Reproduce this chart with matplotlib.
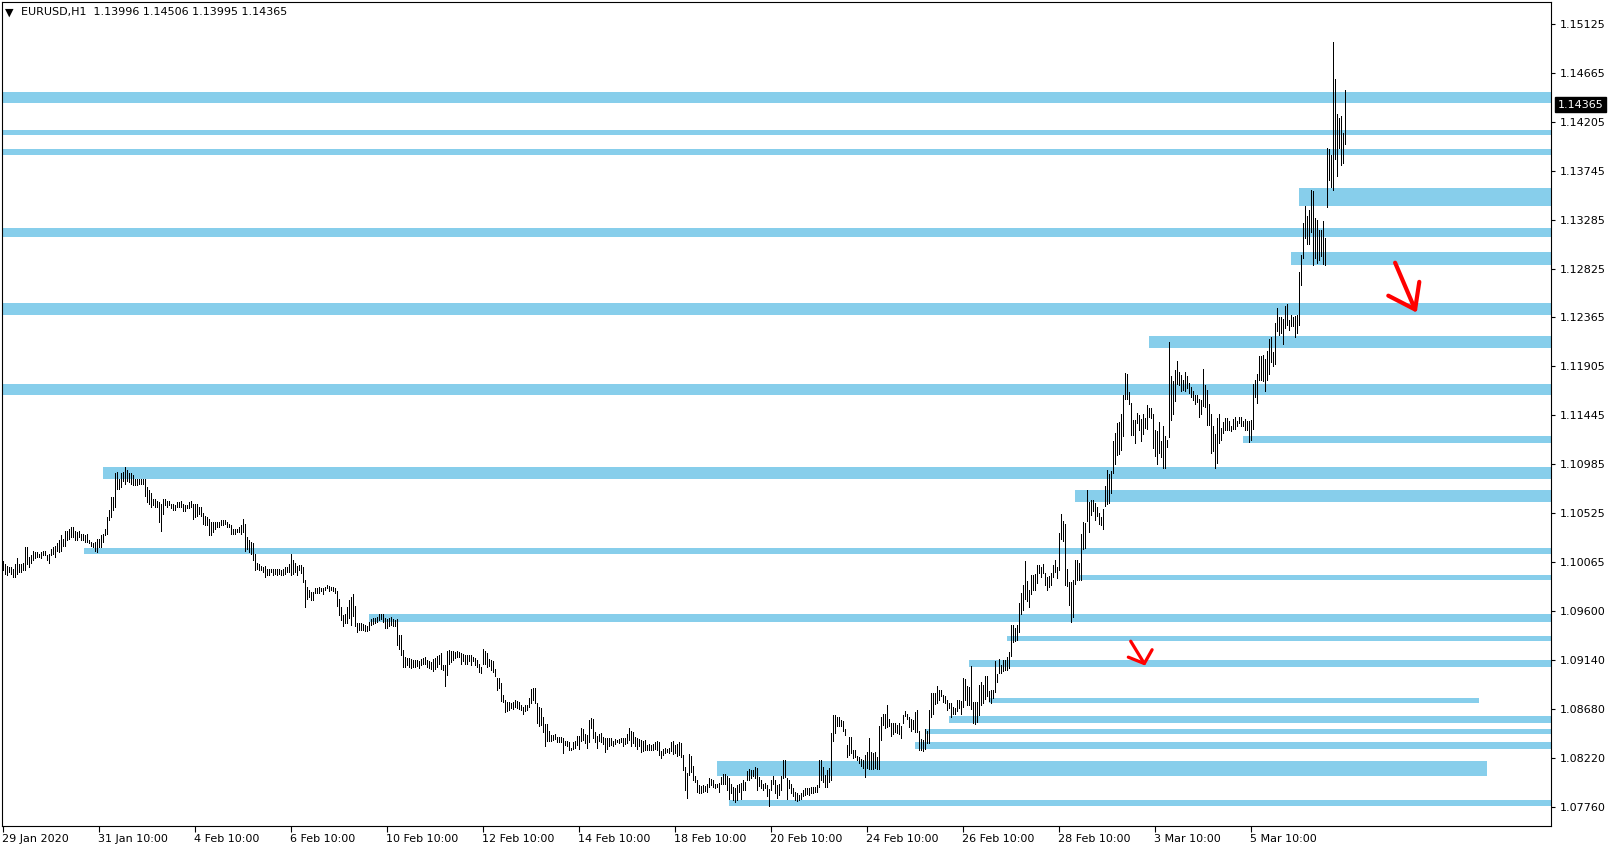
import matplotlib
matplotlib.use("Agg")
import matplotlib.pyplot as plt
from matplotlib.patches import Rectangle
import matplotlib.transforms as mtransforms
import numpy as np

# ---------------- data ----------------
symbol_title = "EURUSD,H1"
last_ohlc = [1.13996, 1.14506, 1.13995, 1.14365]

# hourly (high, low) pairs, in time order
hl_jan29_feb06 = [
    (1.1007,1.0999),(1.1005,1.0995),(1.1003,1.0994),(1.1002,1.0997),(1.1002,1.0995),(1.1000,1.0992),(1.1005,1.0992),(1.1010,1.0995),(1.1005,1.0997),(1.1005,1.0997),
    (1.1006,1.0999),(1.1021,1.0999),(1.1021,1.1005),(1.1011,1.1002),(1.1013,1.1006),(1.1017,1.1008),(1.1016,1.1010),(1.1016,1.1011),(1.1014,1.1011),(1.1016,1.1010),
    (1.1017,1.1013),(1.1017,1.1013),(1.1013,1.1008),(1.1014,1.1006),(1.1019,1.1013),(1.1021,1.1014),(1.1022,1.1011),(1.1024,1.1017),(1.1027,1.1016),(1.1032,1.1017),
    (1.1028,1.1022),(1.1036,1.1022),(1.1036,1.1027),(1.1038,1.1028),(1.1039,1.1030),(1.1039,1.1030),(1.1036,1.1027),(1.1035,1.1027),(1.1036,1.1030),(1.1033,1.1027),
    (1.1033,1.1027),(1.1032,1.1025),(1.1033,1.1025),(1.1027,1.1024),(1.1025,1.1022),(1.1024,1.1021),(1.1025,1.1017),(1.1028,1.1016),(1.1028,1.1021),(1.1032,1.1021),
    (1.1033,1.1025),(1.1038,1.1032),(1.1049,1.1033),(1.1055,1.1046),(1.1068,1.1049),(1.1068,1.1055),(1.1090,1.1058),(1.1091,1.1075),(1.1085,1.1075),(1.1090,1.1077),
    (1.1091,1.1083),(1.1096,1.1080),(1.1093,1.1083),(1.1090,1.1082),(1.1090,1.1080),(1.1088,1.1079),(1.1085,1.1079),(1.1085,1.1079),(1.1085,1.1080),(1.1085,1.1080),
    (1.1085,1.1080),(1.1085,1.1069),(1.1077,1.1063),(1.1074,1.1061),(1.1071,1.1058),(1.1066,1.1060),(1.1066,1.1058),(1.1064,1.1058),(1.1063,1.1044),(1.1061,1.1036),
    (1.1066,1.1052),(1.1066,1.1060),(1.1064,1.1058),(1.1064,1.1060),(1.1061,1.1057),(1.1061,1.1055),(1.1060,1.1055),(1.1063,1.1058),(1.1063,1.1058),(1.1064,1.1058),
    (1.1061,1.1054),(1.1060,1.1054),(1.1060,1.1057),(1.1063,1.1057),(1.1064,1.1058),(1.1061,1.1047),(1.1061,1.1049),(1.1061,1.1050),(1.1058,1.1052),(1.1058,1.1050),
    (1.1053,1.1042),(1.1050,1.1041),(1.1049,1.1041),(1.1047,1.1032),(1.1044,1.1032),(1.1044,1.1035),(1.1044,1.1038),(1.1044,1.1039),(1.1044,1.1039),(1.1046,1.1041),
    (1.1046,1.1041),(1.1046,1.1042),(1.1044,1.1039),(1.1042,1.1039),(1.1041,1.1033),(1.1038,1.1033),(1.1038,1.1033),(1.1038,1.1035),(1.1039,1.1035),(1.1041,1.1033),
    (1.1047,1.1035),(1.1042,1.1017),(1.1030,1.1019),(1.1027,1.1016),(1.1025,1.1014),(1.1024,1.1008),(1.1014,1.0999),(1.1006,1.1000),(1.1005,1.0999),(1.1003,1.0999),
    (1.1002,1.0997),(1.1003,1.0992),(1.1000,1.0994),(1.1000,1.0994),(1.1000,1.0997),(1.1000,1.0994),(1.1000,1.0995),(1.1000,1.0994),(1.1000,1.0995),(1.0999,1.0994),
    (1.1000,1.0994),(1.1002,1.0995),(1.1002,1.0997),(1.1005,1.0997),(1.1014,1.0994),(1.1008,1.0995),(1.1006,1.0997),(1.1003,1.0994),
]

hl_feb06_feb18 = [
    (1.1004,1.0999),(1.1004,1.0996),(1.1002,1.0988),(1.0990,1.0964),(1.0983,1.0972),(1.0980,1.0974),(1.0978,1.0971),(1.0978,1.0971),(1.0982,1.0977),(1.0982,1.0977),
    (1.0983,1.0977),(1.0982,1.0979),(1.0982,1.0976),(1.0983,1.0980),(1.0985,1.0982),(1.0984,1.0979),(1.0983,1.0980),(1.0983,1.0979),(1.0982,1.0977),(1.0979,1.0965),
    (1.0972,1.0957),(1.0964,1.0952),(1.0957,1.0946),(1.0958,1.0949),(1.0964,1.0949),(1.0971,1.0954),(1.0974,1.0947),(1.0976,1.0956),(1.0965,1.0946),(1.0949,1.0941),
    (1.0949,1.0943),(1.0949,1.0943),(1.0948,1.0943),(1.0947,1.0942),(1.0946,1.0942),(1.0950,1.0943),(1.0953,1.0947),(1.0954,1.0948),(1.0954,1.0949),(1.0955,1.0950),
    (1.0958,1.0952),(1.0958,1.0953),(1.0958,1.0950),(1.0954,1.0944),(1.0953,1.0944),(1.0954,1.0946),(1.0955,1.0947),(1.0953,1.0946),(1.0952,1.0946),(1.0953,1.0928),
    (1.0938,1.0925),(1.0938,1.0919),(1.0924,1.0908),(1.0917,1.0908),(1.0916,1.0910),(1.0916,1.0908),(1.0915,1.0907),(1.0914,1.0908),(1.0914,1.0908),(1.0914,1.0909),
    (1.0913,1.0907),(1.0915,1.0910),(1.0916,1.0911),(1.0917,1.0911),(1.0914,1.0908),(1.0913,1.0907),(1.0912,1.0906),(1.0915,1.0904),(1.0916,1.0906),(1.0918,1.0908),
    (1.0919,1.0911),(1.0921,1.0906),(1.0910,1.0905),(1.0910,1.0890),(1.0923,1.0900),(1.0924,1.0911),(1.0923,1.0912),(1.0923,1.0914),(1.0922,1.0916),(1.0923,1.0917),
    (1.0922,1.0917),(1.0921,1.0911),(1.0920,1.0913),(1.0919,1.0911),(1.0919,1.0911),(1.0919,1.0913),(1.0919,1.0910),(1.0917,1.0913),(1.0916,1.0910),(1.0914,1.0908),
    (1.0911,1.0903),(1.0908,1.0902),(1.0925,1.0911),(1.0923,1.0911),(1.0921,1.0908),(1.0915,1.0909),(1.0914,1.0905),(1.0913,1.0903),(1.0906,1.0899),(1.0897,1.0886),
    (1.0897,1.0888),(1.0893,1.0876),(1.0881,1.0875),(1.0877,1.0865),(1.0875,1.0866),(1.0875,1.0867),(1.0874,1.0869),(1.0875,1.0868),(1.0877,1.0870),(1.0876,1.0869),
    (1.0875,1.0868),(1.0872,1.0867),(1.0870,1.0864),(1.0872,1.0866),(1.0872,1.0867),(1.0879,1.0870),(1.0887,1.0874),(1.0888,1.0877),(1.0888,1.0874),(1.0874,1.0855),
    (1.0870,1.0852),(1.0869,1.0853),(1.0861,1.0847),(1.0854,1.0833),(1.0854,1.0838),(1.0848,1.0838),(1.0844,1.0838),(1.0844,1.0839),(1.0845,1.0840),(1.0842,1.0837),
    (1.0842,1.0837),(1.0842,1.0837),(1.0841,1.0827),(1.0838,1.0834),(1.0838,1.0833),(1.0837,1.0830),(1.0832,1.0830),(1.0837,1.0831),(1.0838,1.0832),(1.0843,1.0834),
    (1.0843,1.0831),(1.0850,1.0838),(1.0849,1.0839),(1.0845,1.0836),(1.0844,1.0832),(1.0858,1.0837),(1.0860,1.0850),(1.0859,1.0841),(1.0847,1.0837),(1.0843,1.0832),
    (1.0845,1.0838),(1.0846,1.0837),(1.0842,1.0835),(1.0841,1.0828),(1.0841,1.0831),(1.0841,1.0833),(1.0841,1.0834),(1.0838,1.0833),(1.0840,1.0835),(1.0839,1.0837),
    (1.0840,1.0836),(1.0841,1.0837),(1.0841,1.0833),(1.0841,1.0835),(1.0845,1.0836),(1.0850,1.0839),(1.0848,1.0833),(1.0847,1.0836),(1.0842,1.0833),(1.0841,1.0831),
    (1.0840,1.0833),(1.0839,1.0828),(1.0838,1.0829),(1.0839,1.0830),(1.0834,1.0830),(1.0835,1.0830),(1.0834,1.0830),(1.0835,1.0830),(1.0837,1.0831),(1.0838,1.0830),
    (1.0837,1.0825),
]

hl_feb18_feb26 = [
    (1.0829,1.0822),(1.0831,1.0825),(1.0832,1.0827),(1.0831,1.0828),(1.0832,1.0827),(1.0837,1.0829),(1.0838,1.0826),(1.0834,1.0827),(1.0835,1.0824),(1.0837,1.0825),
    (1.0836,1.0823),(1.0825,1.0811),(1.0814,1.0792),(1.0808,1.0785),(1.0826,1.0806),(1.0824,1.0809),(1.0815,1.0801),(1.0805,1.0800),(1.0801,1.0790),(1.0797,1.0789),
    (1.0796,1.0789),(1.0797,1.0790),(1.0796,1.0791),(1.0798,1.0790),(1.0803,1.0795),(1.0802,1.0797),(1.0801,1.0795),(1.0798,1.0794),(1.0798,1.0795),(1.0799,1.0790),
    (1.0804,1.0798),(1.0807,1.0798),(1.0807,1.0798),(1.0805,1.0792),(1.0803,1.0784),(1.0798,1.0789),(1.0795,1.0783),(1.0794,1.0781),(1.0797,1.0783),(1.0798,1.0790),
    (1.0799,1.0784),(1.0801,1.0792),(1.0800,1.0792),(1.0810,1.0801),(1.0812,1.0801),(1.0811,1.0803),(1.0811,1.0805),(1.0814,1.0803),(1.0813,1.0792),(1.0804,1.0796),
    (1.0801,1.0794),(1.0798,1.0792),(1.0799,1.0794),(1.0797,1.0786),(1.0793,1.0777),(1.0801,1.0792),(1.0805,1.0798),(1.0801,1.0789),(1.0797,1.0785),(1.0798,1.0787),
    (1.0805,1.0792),(1.0820,1.0803),(1.0820,1.0804),(1.0803,1.0784),(1.0801,1.0794),(1.0798,1.0789),(1.0794,1.0786),(1.0790,1.0783),(1.0789,1.0782),(1.0787,1.0783),
    (1.0789,1.0784),(1.0792,1.0786),(1.0794,1.0787),(1.0794,1.0788),(1.0794,1.0787),(1.0795,1.0789),(1.0795,1.0789),(1.0795,1.0790),(1.0797,1.0790),(1.0820,1.0795),
    (1.0820,1.0801),(1.0814,1.0800),(1.0806,1.0795),(1.0811,1.0795),(1.0813,1.0800),(1.0846,1.0801),(1.0863,1.0838),(1.0863,1.0846),(1.0861,1.0852),(1.0861,1.0852),
    (1.0858,1.0852),(1.0857,1.0848),(1.0849,1.0844),(1.0834,1.0823),(1.0842,1.0825),(1.0842,1.0827),(1.0830,1.0822),(1.0830,1.0823),(1.0824,1.0820),(1.0823,1.0817),
    (1.0821,1.0815),(1.0820,1.0813),(1.0825,1.0804),(1.0828,1.0813),(1.0841,1.0812),(1.0828,1.0812),(1.0827,1.0812),(1.0828,1.0813),(1.0823,1.0812),(1.0852,1.0812),
    (1.0861,1.0839),(1.0864,1.0853),(1.0864,1.0850),(1.0872,1.0851),(1.0859,1.0852),(1.0855,1.0843),(1.0855,1.0845),(1.0855,1.0847),(1.0853,1.0846),(1.0855,1.0845),
    (1.0852,1.0841),(1.0863,1.0855),(1.0866,1.0862),(1.0864,1.0859),(1.0861,1.0851),(1.0859,1.0848),(1.0858,1.0849),(1.0865,1.0847),(1.0867,1.0847),(1.0848,1.0830),
    (1.0840,1.0830),(1.0839,1.0829),(1.0849,1.0831),(1.0848,1.0836),(1.0867,1.0836),(1.0883,1.0861),(1.0883,1.0864),(1.0883,1.0873),(1.0890,1.0874),(1.0886,1.0877),
    (1.0886,1.0880),(1.0881,1.0875),(1.0880,1.0874),(1.0877,1.0867),(1.0874,1.0869),
]

hl_feb26_mar03 = [
    (1.0874,1.0861),(1.0870,1.0864),(1.0869,1.0864),(1.0877,1.0866),(1.0877,1.0869),(1.0876,1.0864),(1.0897,1.0870),(1.0896,1.0877),(1.0890,1.0872),(1.0889,1.0872),
    (1.0909,1.0868),(1.0875,1.0855),(1.0875,1.0854),(1.0875,1.0856),(1.0891,1.0863),(1.0894,1.0872),(1.0891,1.0874),(1.0899,1.0878),(1.0899,1.0880),(1.0885,1.0876),
    (1.0886,1.0874),(1.0886,1.0879),(1.0913,1.0884),(1.0901,1.0894),(1.0915,1.0902),(1.0910,1.0902),(1.0914,1.0904),(1.0914,1.0905),(1.0917,1.0905),(1.0922,1.0907),
    (1.0947,1.0918),(1.0947,1.0931),(1.0944,1.0932),(1.0947,1.0933),(1.0968,1.0941),(1.0977,1.0958),(1.0985,1.0961),(1.1007,1.0972),(1.0989,1.0970),(1.0980,1.0964),
    (1.0994,1.0976),(1.0994,1.0980),(1.0995,1.0980),(1.1004,1.0987),(1.1004,1.0996),(1.1002,1.0992),(1.1005,1.0996),(1.0996,1.0985),(1.0992,1.0980),(1.0993,1.0983),
    (1.0996,1.0985),(1.1004,1.0992),(1.1008,1.0997),(1.1002,1.0991),(1.1034,1.0999),(1.1052,1.1028),(1.1045,1.1026),(1.1042,1.0985),(1.1000,1.0984),(1.0988,1.0966),
    (1.0988,1.0950),(1.0990,1.0955),(1.1008,1.0986),(1.1008,1.0990),(1.1006,1.0990),(1.1033,1.0990),(1.1044,1.1019),(1.1043,1.1020),(1.1074,1.1045),(1.1063,1.1035),
    (1.1065,1.1051),(1.1065,1.1054),(1.1062,1.1046),(1.1058,1.1050),(1.1053,1.1042),(1.1049,1.1041),(1.1056,1.1038),(1.1078,1.1059),(1.1093,1.1061),(1.1089,1.1062),
    (1.1092,1.1071),(1.1120,1.1090),(1.1128,1.1099),(1.1137,1.1107),(1.1138,1.1108),(1.1146,1.1112),(1.1164,1.1125),(1.1184,1.1160),(1.1183,1.1160),(1.1166,1.1155),
    (1.1156,1.1126),(1.1140,1.1126),(1.1140,1.1118),(1.1147,1.1137),(1.1145,1.1131),(1.1141,1.1120),(1.1146,1.1127),(1.1142,1.1133),(1.1154,1.1132),(1.1151,1.1143),
    (1.1151,1.1142),(1.1146,1.1114),(1.1131,1.1106),(1.1130,1.1099),(1.1138,1.1109),
]

hl_mar03_mar06 = [
    (1.1120,1.1105),(1.1134,1.1095),(1.1125,1.1095),(1.1121,1.1115),(1.1213,1.1124),(1.1181,1.1140),(1.1177,1.1146),(1.1187,1.1158),(1.1196,1.1174),(1.1185,1.1173),
    (1.1182,1.1167),(1.1178,1.1168),(1.1185,1.1167),(1.1181,1.1170),(1.1175,1.1165),(1.1171,1.1162),(1.1167,1.1159),(1.1164,1.1155),(1.1164,1.1157),(1.1160,1.1143),
    (1.1159,1.1146),(1.1188,1.1153),(1.1173,1.1152),(1.1168,1.1135),(1.1155,1.1135),(1.1146,1.1109),(1.1134,1.1111),(1.1127,1.1095),(1.1142,1.1100),(1.1146,1.1118),
    (1.1133,1.1121),(1.1138,1.1128),(1.1142,1.1131),(1.1142,1.1131),(1.1139,1.1131),(1.1134,1.1130),(1.1141,1.1132),(1.1143,1.1132),(1.1139,1.1134),(1.1143,1.1137),
    (1.1143,1.1134),(1.1139,1.1134),(1.1141,1.1131),(1.1139,1.1131),(1.1139,1.1119),(1.1140,1.1121),(1.1174,1.1132),(1.1178,1.1162),(1.1183,1.1156),(1.1200,1.1178),
    (1.1200,1.1178),(1.1201,1.1177),(1.1197,1.1167),(1.1205,1.1178),(1.1216,1.1183),(1.1218,1.1195),(1.1204,1.1191),(1.1231,1.1193),(1.1245,1.1224),(1.1237,1.1220),
    (1.1237,1.1222),(1.1235,1.1212),(1.1247,1.1227),(1.1249,1.1229),(1.1234,1.1225),(1.1239,1.1228),(1.1237,1.1228),(1.1238,1.1218),(1.1239,1.1222),
]

hl_mar06_mar09 = [
    (1.1279,1.1229),(1.1295,1.1267),(1.1325,1.1292),(1.1341,1.1311),(1.1332,1.1306),(1.1338,1.1306),(1.1356,1.1317),(1.1355,1.1286),(1.1330,1.1292),(1.1328,1.1288),
    (1.1319,1.1291),(1.1319,1.1294),(1.1327,1.1287),(1.1311,1.1286),(1.1396,1.1340),(1.1395,1.1366),(1.1389,1.1359),(1.1496,1.1356),(1.1461,1.1386),(1.1428,1.1370),
    (1.1424,1.1396),(1.1426,1.1380),(1.1410,1.1382),(1.14506,1.13995),
]

date_labels = ["29 Jan 2020", "31 Jan 10:00", "4 Feb 10:00", "6 Feb 10:00", "10 Feb 10:00",
               "12 Feb 10:00", "14 Feb 10:00", "18 Feb 10:00", "20 Feb 10:00", "24 Feb 10:00",
               "26 Feb 10:00", "28 Feb 10:00", "3 Mar 10:00", "5 Mar 10:00"]
bars_per_label = 48

price_ticks = [1.15125, 1.14665, 1.14205, 1.13745, 1.13285, 1.12825, 1.12365, 1.11905,
               1.11445, 1.10985, 1.10525, 1.10065, 1.09600, 1.09140, 1.08680, 1.08220, 1.07760]

# supply/demand zones: (start bar or None = chart start, end bar or None = open, top, bottom)
zones = [
    (None, None, 1.1449, 1.1438),
    (None, None, 1.1413, 1.1408),
    (None, None, 1.1395, 1.1389),
    (648, None, 1.1358, 1.1341),
    (None, None, 1.1321, 1.1312),
    (644, None, 1.1298, 1.1286),
    (None, None, 1.1250, 1.1239),
    (573, None, 1.1219, 1.1208),
    (None, None, 1.1174, 1.1164),
    (620, None, 1.1125, 1.1118),
    (50, None, 1.1096, 1.1085),
    (536, None, 1.1074, 1.1063),
    (40.5, None, 1.1020, 1.1014),
    (538, None, 1.0994, 1.0990),
    (183, None, 1.0958, 1.0950),
    (502, None, 1.0937, 1.0932),
    (483, None, 1.0914, 1.0908),
    (493, 738, 1.0879, 1.0874),
    (473, None, 1.0862, 1.0855),
    (461, None, 1.0849, 1.0845),
    (456, None, 1.0837, 1.0831),
    (357, 742, 1.0819, 1.0805),
    (363, None, 1.0783, 1.0777),
]

# hand-drawn red arrows (bar, price) polylines: shaft and head
arrow1_shaft = [(695.8, 1.1288), (705.8, 1.1244)]
arrow1_head = [(692.4, 1.1257), (705.8, 1.1244), (707.9, 1.1270)]
arrow2_shaft = [(563.6, 1.0932), (570.4, 1.0911)]
arrow2_head = [(562.4, 1.0917), (570.4, 1.0911), (574.3, 1.0924)]

# ---------------- plotting ----------------
W, H = 1615, 850
fig = plt.figure(figsize=(W / 100, H / 100), dpi=100)
fig.patch.set_facecolor("white")
ax = fig.add_axes([2 / W, (H - 826) / H, (1551 - 2) / W, (826 - 2) / H])
ax.set_facecolor("white")

bars = hl_jan29_feb06 + hl_feb06_feb18 + hl_feb18_feb26 + hl_feb26_mar03 + hl_mar03_mar06 + hl_mar06_mar09
highs = np.array([b[0] for b in bars])
lows = np.array([b[1] for b in bars])
idx = np.arange(len(bars))

xmin, xmax = -0.75, 773.75
ymin, ymax = 1.07582, 1.15332
ax.set_xlim(xmin, xmax)
ax.set_ylim(ymin, ymax)

zone_color = "#87CEEB"
for start, end, top, bot in zones:
    s = xmin - 5 if start is None else start
    e = xmax + 5 if end is None else end
    ax.add_patch(Rectangle((s, bot), e - s, top - bot, facecolor=zone_color,
                           edgecolor="none", antialiased=False, zorder=1))

lc = ax.vlines(idx, lows, highs, colors="black", linewidth=0.72, zorder=3)
lc.set_antialiased(False)

for shaft, head, lw in [(arrow1_shaft, arrow1_head, 3.0), (arrow2_shaft, arrow2_head, 2.3)]:
    for seg in (shaft, head):
        xs = [p[0] for p in seg]
        ys = [p[1] for p in seg]
        ax.plot(xs, ys, color="#FF0000", linewidth=lw, solid_capstyle="round",
                solid_joinstyle="round", zorder=5)

# axes styling
for sp in ax.spines.values():
    sp.set_color("black")
    sp.set_linewidth(0.8)

ax.yaxis.tick_right()
ax.set_yticks(price_ticks)
ax.set_yticklabels([f"{p:.5f}" for p in price_ticks])
ax.tick_params(axis="y", direction="out", length=3, width=0.8, pad=3,
               labelsize=8, colors="black")

xt = [k * bars_per_label for k in range(len(date_labels))]
ax.set_xticks(xt)
ax.set_xticklabels(date_labels)
ax.tick_params(axis="x", direction="out", length=4, width=0.8, pad=1.5,
               labelsize=8, colors="black")
offset = mtransforms.ScaledTranslation(-1 / 100, 0, fig.dpi_scale_trans)
for lab in ax.get_xticklabels():
    lab.set_horizontalalignment("left")
    lab.set_transform(lab.get_transform() + offset)

# current price label
ax.annotate(f"{last_ohlc[3]:.5f}", xy=(1.0, last_ohlc[3]),
            xycoords=ax.get_yaxis_transform(), xytext=(5, 0), textcoords="offset points",
            ha="left", va="center", fontsize=8, color="white", zorder=10,
            annotation_clip=False,
            bbox=dict(boxstyle="square,pad=0.22", facecolor="black", edgecolor="black"))

# title
fig.text(5 / W, 1 - 12.5 / H, "\u25BC", fontsize=8, ha="left", va="center", color="black")
fig.text(21 / W, 1 - 12.5 / H,
         f"{symbol_title}  " + " ".join(f"{v:.5f}" for v in last_ohlc),
         fontsize=8, ha="left", va="center", color="black")

fig.savefig("out.png", dpi=100, facecolor="white")
